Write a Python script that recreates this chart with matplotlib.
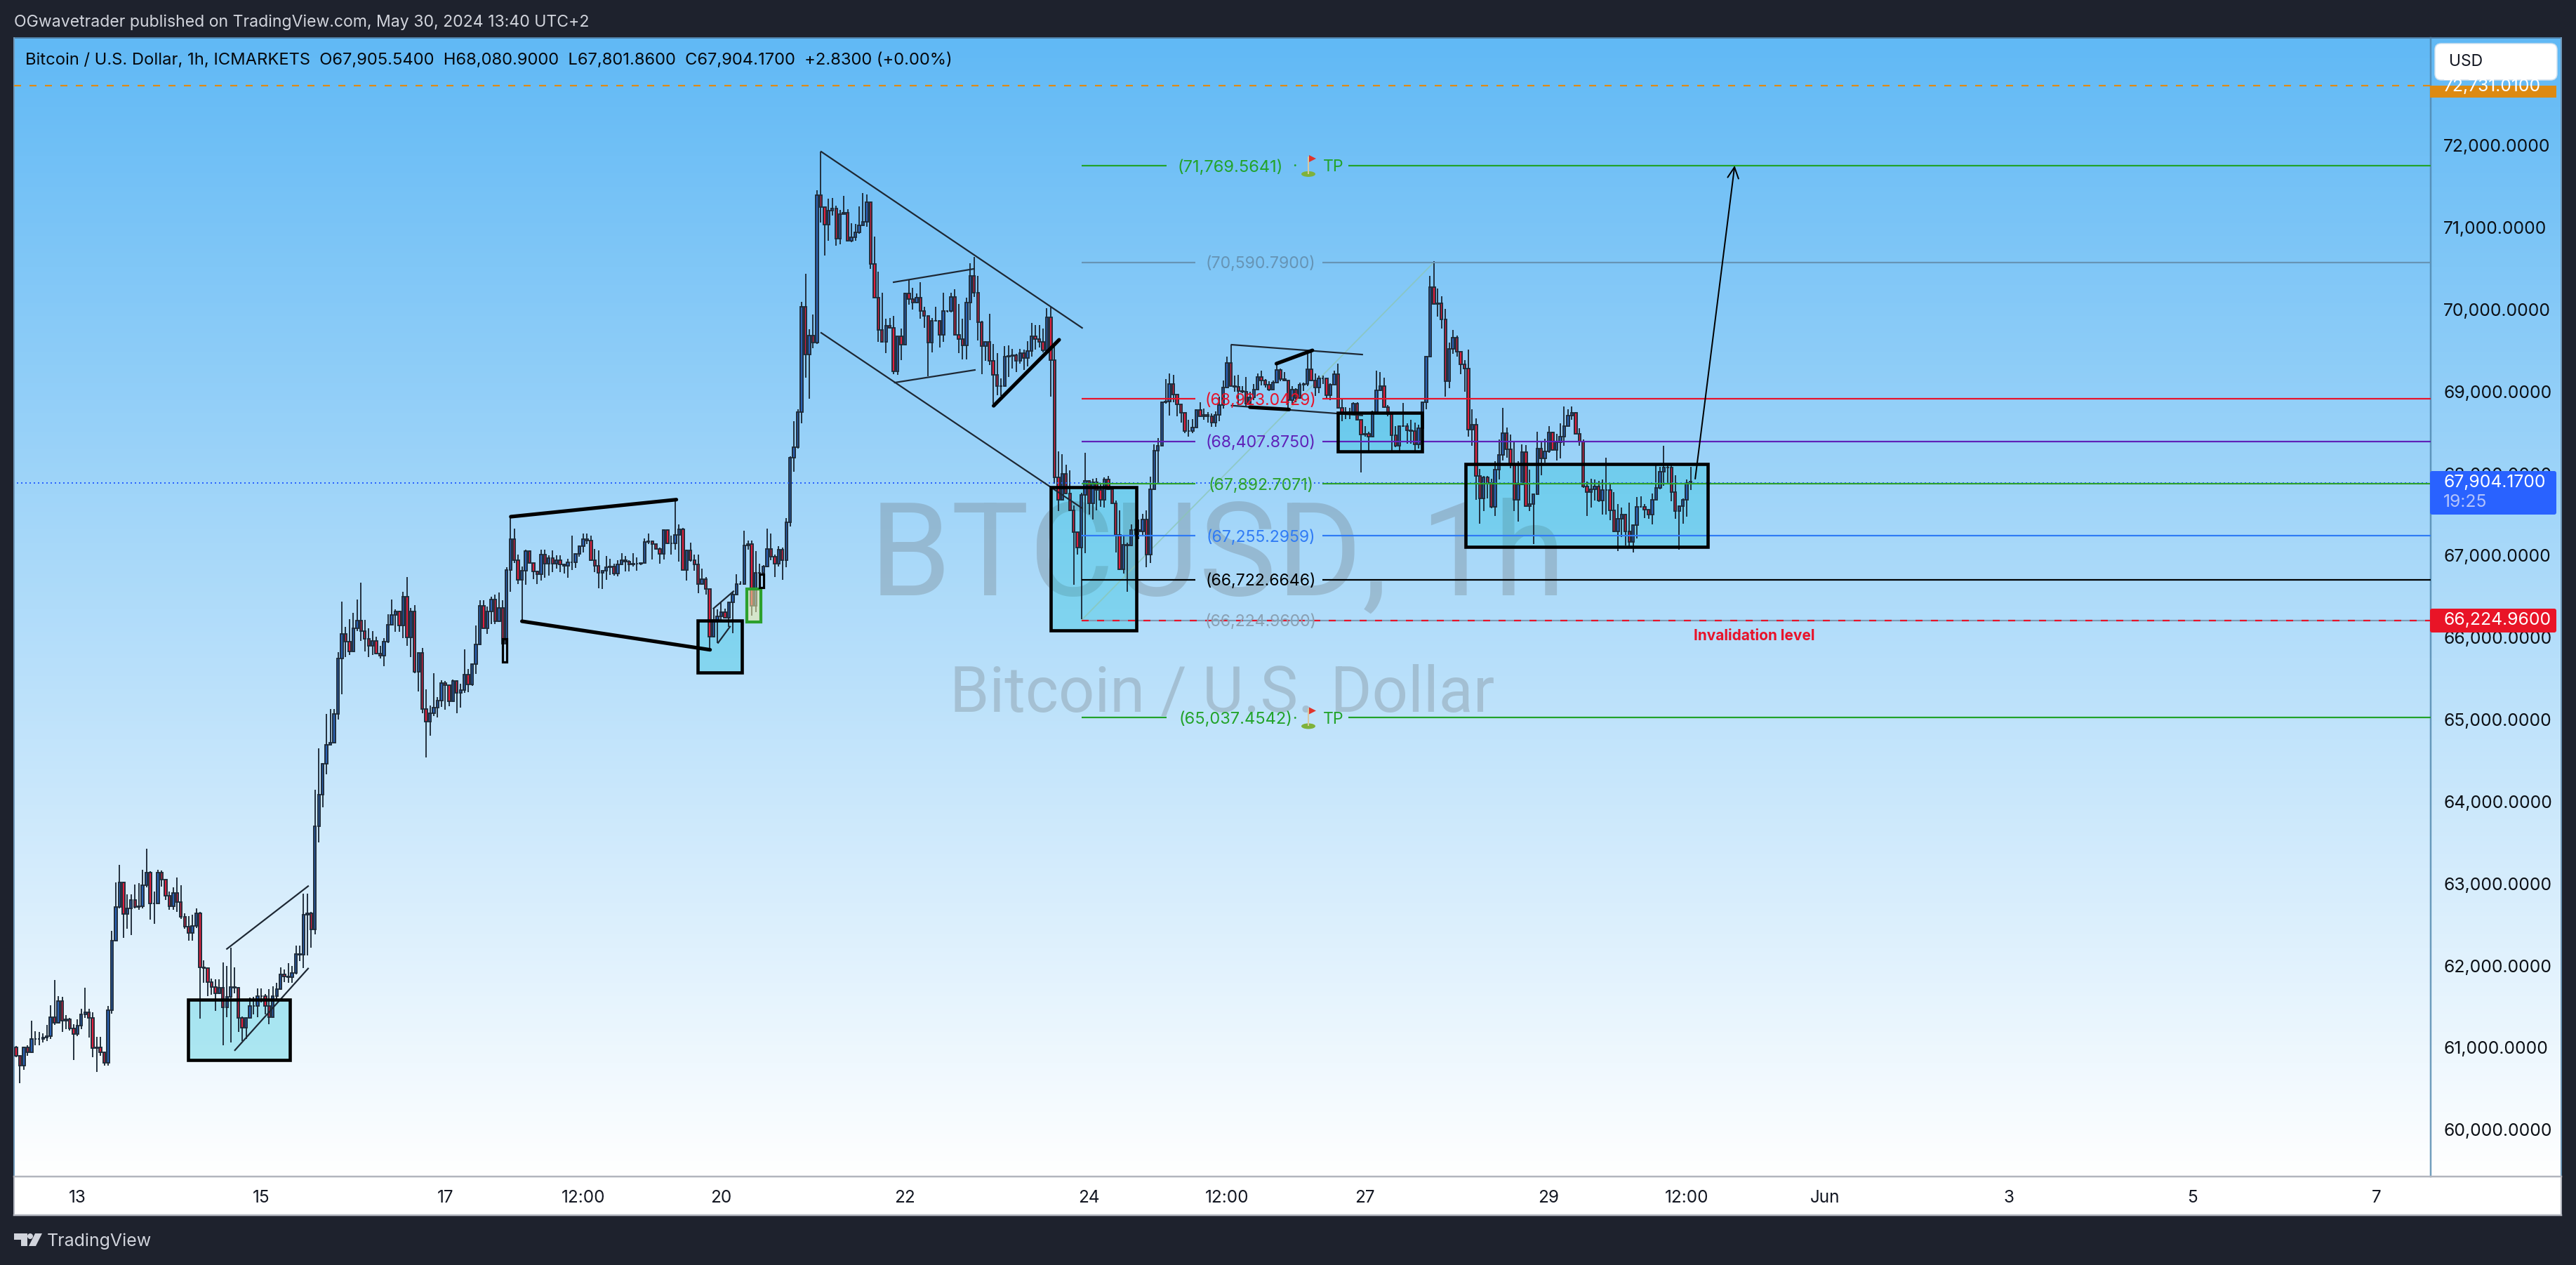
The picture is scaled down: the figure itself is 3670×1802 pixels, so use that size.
import numpy as np
import matplotlib
matplotlib.use("Agg")
import matplotlib.pyplot as plt
from matplotlib.patches import Rectangle, FancyBboxPatch, Polygon, Ellipse, Circle
from matplotlib.transforms import ScaledTranslation

# ---- values ----
first_open = 61000
closes = [
 60900,60780,61000,60945,61100,61100,61105,61125,61140,61370,
 61300,61570,61330,61345,61230,61160,61270,61400,61430,61360,
 60990,61000,60940,60810,61455,62300,62710,63010,62630,62700,
 62795,62710,62720,62975,63135,62760,62760,63135,63050,62850,
 62720,62885,62770,62590,62470,62400,62480,62640,61980,61965,
 61800,61740,61660,61730,61490,61615,61740,61730,61360,61240,
 61360,61510,61510,61630,61630,61510,61370,61630,61710,61890,
 61870,61860,61910,62140,62130,62620,62640,62440,63700,
 64085,64460,64690,64720,65070,65745,66040,65950,65830,66115,66205,
 66080,65980,65900,65960,65800,65780,65950,66150,66270,66320,
 66145,66500,66000,66320,65577,65810,65130,64970,65075,65140,
 65230,65445,65420,65220,65470,65325,65360,65550,65425,65675,
 65915,66385,66115,66320,66465,66196,66360,65925,66825,67200,
 66940,66700,66815,67050,66910,66805,66770,67010,66900,66965,
 66900,66940,66890,66875,66920,66918,67018,67115,67200,67180,
 66940,66870,66786,66810,66860,66865,66775,66890,66945,66925,
 66890,66895,66895,66905,67165,67170,67135,67080,67015,67310,
 67145,67150,67250,67320,66825,67060,66940,66887,66653,66710,
 66588,66011,66210,66254,66310,66240,66425,66525,66647,66653,
 67124,67135,66382,66790,66790,66867,67080,66981,66896,67067,
 66938,67400,68194,68323,68750,70034,69450,69678,69592,71390,
 71247,71033,71204,71232,70862,71161,71175,70833,70876,70942,
 71027,71067,71310,70553,70143,69750,69606,69800,69775,69240,
 69670,69572,70190,70125,70080,70140,69977,69920,69592,69862,
 69862,69692,69977,69977,70154,69692,69635,69564,70086,70410,
 70205,69840,69550,69600,69372,69200,69064,69064,69421,69435,
 69441,69372,69464,69407,69492,69670,69640,69600,69500,69906,
 69378,67951,67680,67994,67757,67550,67280,67095,67737,67908,
 67637,67894,67794,67680,67922,67803,67637,67252,66833,67130,
 67123,67310,67306,67290,67440,67010,67803,68279,68336,68864,
 68880,69086,68964,68842,68736,68516,68516,68556,68773,68693,
 68713,68693,68620,68716,68830,69050,69350,69064,69058,69006,
 68992,68850,68930,69020,69172,69135,69078,69021,69106,69263,
 69150,69130,68892,69021,68921,69078,69086,69272,69135,69050,
 69155,69155,68950,69080,69212,68801,68750,68745,68736,68850,
 68650,68470,68480,68450,68745,69010,69060,68807,68720,68465,
 68336,68573,68580,68527,68520,68350,68550,68870,69426,70268,
 70068,70076,69877,69121,69515,69657,69486,69326,69278,68536,
 68593,67971,67695,67951,67880,67589,68043,68228,68488,68294,
 68108,67680,67866,68259,67603,67630,67746,68299,68180,68265,
 68499,68285,68379,68450,68579,68707,68736,68485,68385,67837,
 67775,67810,67843,67666,67794,67794,67546,67295,67443,67495,
 67295,67167,67366,67595,67595,67560,67495,67680,67820,68023,
 68070,68070,67774,67537,67603,67680,67880,67904,
]
highs = [
 61015,60910,61010,61030,61330,61195,61190,61170,61275,61515,
 61820,61630,61615,61395,61365,61280,61340,61470,61730,61470,
 61430,61130,61130,60950,61510,62420,63010,63230,63010,62870,
 62870,62985,63000,63170,63420,63150,62900,63170,63160,62950,
 62900,62950,63070,62980,62640,62600,62620,62700,62650,62060,
 61970,61840,61830,61830,62040,61990,62220,61980,61740,61375,
 61370,61610,61620,61720,61720,61650,61710,61750,61790,61980,
 61950,62030,61990,62240,62240,62880,62880,62650,64140,
 64647,64470,65070,65130,65130,65817,66433,66125,66225,66300,66460,
 66670,66210,66110,66080,66005,65900,65990,66280,66460,66345,
 66325,66560,66735,66360,66390,65810,65870,65363,65170,65560,
 65275,65480,65465,65415,65490,65480,65435,65854,65612,65680,
 66145,66450,66450,66375,66500,66525,66545,66450,66860,67458,
 67324,67010,66865,67070,67060,66824,66810,67070,67070,67000,
 67060,67000,67000,66895,66960,67237,67030,67125,67266,67266,
 67237,67080,67060,66810,66995,66958,66895,66938,67023,66990,
 66938,67023,66980,66905,67203,67266,67180,67146,67095,67315,
 67315,67238,67680,67380,67338,67066,67152,67010,67010,66840,
 66740,66590,66350,66340,66425,66350,66425,66553,66767,66682,
 67300,67181,67181,67052,66895,66880,67323,67266,67010,67110,
 67095,67452,68208,68636,68779,70091,70434,69755,69935,71452,
 71926,71247,71347,71355,71260,71210,71381,71218,71047,71039,
 71255,71415,71398,71318,70885,70457,70205,69886,69897,69920,
 69670,69763,70205,70362,70263,70190,70334,70034,69906,69892,
 70029,69869,70200,69992,70205,70242,70063,69883,70143,70562,
 70642,70410,69863,69612,69943,69578,69470,69156,69555,69563,
 69515,69458,69520,69507,69615,69835,69806,69806,69763,70011,
 70029,69555,68270,68236,68108,68037,67609,67280,67760,68250,
 67917,67937,67945,67865,67951,67965,67837,67665,67552,67252,
 67152,67380,67323,67437,67509,67552,67957,68350,68430,68878,
 69150,69220,69200,68850,68835,68735,68650,68665,68778,68864,
 68793,68750,68727,68755,68935,69135,69420,69572,69192,69200,
 69064,69178,68992,69086,69220,69249,69150,69120,69135,69340,
 69278,69235,69135,69064,69035,69106,69106,69497,69497,69220,
 69192,69192,69106,69098,69249,69335,68921,68807,68800,68870,
 68864,68593,68580,68507,68764,69249,69235,69163,68835,68716,
 68579,68579,68855,68607,68650,68620,68590,68879,69426,70405,
 70590,70254,70157,70005,69592,69749,69677,69486,69378,69506,
 68780,68670,68051,67965,67965,67937,68145,68413,68798,68556,
 68473,68379,68145,68351,68345,68043,67750,68508,68380,68420,
 68573,68507,68479,68607,68813,68784,68813,68745,68550,68413,
 67900,67937,67923,67908,67928,68188,67872,67772,67623,67580,
 67510,67643,67380,67709,67717,67623,67552,67757,68100,68080,
 68336,68093,68093,67980,67610,67695,67929,68081,
]
lows = [
 60885,60565,60730,60900,60955,61030,61030,61060,61080,61100,
 61275,61295,61190,61220,61205,60850,61140,61220,61360,61120,
 60885,60700,60900,60780,60780,61410,62290,62700,62340,62450,
 62370,62700,62680,62700,62950,62560,62510,62760,62960,62800,
 62680,62680,62650,62570,62450,62300,62300,62460,61350,61790,
 61630,61640,61450,61650,61030,61370,61060,61660,61190,61080,
 61100,61350,61400,61370,61550,61400,61280,61370,61590,61700,
 61800,61790,61790,61890,62050,61970,62120,62220,62380,
 63500,63930,64335,64700,64740,65000,65303,65760,65790,65860,66080,
 65960,65830,65760,65790,65797,65740,65645,65930,66150,66070,
 66070,65990,65895,65760,65563,65340,65075,64535,64800,65040,
 65020,65155,65120,65160,65220,65075,65145,65320,65330,65410,
 65555,65910,66110,66045,66160,66160,66190,65920,65920,66553,
 66910,66650,66197,66640,66900,66710,66650,66695,66725,66750,
 66795,66840,66795,66780,66730,66824,66850,66986,67036,67135,
 66935,66800,66595,66587,66704,66758,66753,66747,66890,66804,
 66804,66867,66815,66880,66906,67137,66950,67066,66900,66950,
 67140,67010,67067,66924,66820,66695,66924,66810,66540,66640,
 66518,65849,66000,65934,66210,66240,66125,66054,66520,66640,
 66640,67067,66268,66310,66767,66753,66860,66938,66740,66867,
 66700,66853,67352,68023,68300,68613,69170,68907,69527,69580,
 71056,70653,70840,71147,70776,70790,71161,70827,70819,70839,
 70919,71033,71004,70496,70143,69606,69600,69470,69770,69207,
 69200,69384,69670,70060,70000,70070,69890,69778,69180,69478,
 69856,69535,69606,69963,69963,69692,69470,69392,69392,69869,
 70154,69620,69207,69372,69321,68850,68956,68944,69092,69179,
 69278,69236,69335,69264,69307,69421,69512,69535,69478,69492,
 68936,67872,67537,67665,67751,67537,66644,67010,66224,67024,
 67495,67437,67552,67595,67580,67797,67637,67038,66825,66780,
 66553,67110,67252,67195,67238,66860,66910,67803,67865,68336,
 68850,68707,68864,68693,68621,68493,68450,68487,68556,68693,
 68650,68622,68564,68564,68636,68793,69050,69064,68992,68835,
 68978,68807,68850,68892,69020,69070,69050,69006,69098,69106,
 69120,69120,68778,68850,68864,68907,69007,69064,69120,68944,
 68978,69086,68921,68892,69090,68793,68640,68665,68665,68721,
 68642,68008,68450,68280,68436,68750,69007,68801,68693,68279,
 68322,68279,68579,68365,68360,68250,68300,68545,68784,69426,
 70060,69914,69763,68936,69041,69458,69420,69212,68998,68450,
 68336,67680,67389,67544,67695,67572,67480,67923,68157,68194,
 68065,67544,67415,67880,67595,67537,67138,67746,67980,68135,
 68250,68280,68157,68180,68336,68573,68650,68480,68336,67823,
 67480,67586,67666,67652,67495,67495,67430,67280,67053,67224,
 67123,67110,67038,67210,67585,67452,67443,67381,67680,67808,
 67851,67880,67657,67443,67067,67386,67472,67801,
]
assert len(closes) == len(highs) == len(lows), (len(closes), len(highs), len(lows))

price_ticks = [72000,71000,70000,69000,68000,67000,66000,65000,64000,63000,62000,61000,60000]
time_tick_bars = [16,64,112,148,184,232,280,316,352,400,436,472,520,568,616]
time_tick_labels = ["13","15","17","12:00","20","22","24","12:00","27","29","12:00","Jun","3","5","7"]

level_prices = [70590.79,68923.0429,68407.875,67892.7071,67255.2959,66722.6646]
level_colors = ["#6694b5","#e8132a","#5e21b8","#2ca02c","#2f7bf5","#000000"]
level_labels = ["(70,590.7900)","(68,923.0429)","(68,407.8750)","(67,892.7071)","(67,255.2959)","(66,722.6646)"]
tp_prices = [71769.5641,65037.4542]
tp_labels = ["(71,769.5641)","(65,037.4542)"]
stop_price = 66224.96
alert_price = 72731.01
last_price = 67904.17

# zones: bar from, bar to, price low, price high
zones = [(44.9,71.4,60846,61583),(177.8,189.4,65571,66205),(270.1,292.3,66085,67831),
         (344.9,367,68268,68739),(378.2,441.4,67104,68114)]
# thin trend lines: bar, price, bar, price
thin_lines = [(210.1,71923,278.2,69774),(210.1,69714,278.2,67575),(229,70331,250,70494),(229.3,69107,250.2,69261),
              (55,62202,76.2,62967),(57.1,60967,76.2,61963),(182,66353,187.2,66562),(183.2,65934,186.3,66131),
              (317.2,69569,351.3,69449),(317.2,68827,351.3,68707)]
thick_lines = [(129.1,67472,172.3,67680),(132,66197,181.1,65849),(255.1,68824,272.2,69629),
               (328.9,69338,338.3,69500),(322,68807,332.2,68779)]
READ_OFFSET = 17  # the readings above were taken against the tick-label centres, which sit 2 px above the true scale

W, H = 3670, 1802
BG = "#1e222d"
plt.rcParams['font.family'] = ['Inter', 'DejaVu Sans']
fig = plt.figure(figsize=(W/100, H/100), dpi=100, facecolor=BG)
PX = 0.72  # one pixel in points

def full_axes(z):
    a = fig.add_axes([0, 0, 1, 1], zorder=z)
    a.set_xlim(0, W); a.set_ylim(H, 0); a.axis('off'); a.patch.set_alpha(0)
    return a

back = full_axes(0)
top = full_axes(3)

# pane background gradient
grad = np.linspace(0, 1, 256)[:, None, None] * (np.array([255,255,255])-np.array([97,185,245])) + np.array([97,185,245])
back.imshow(grad.astype(np.uint8), extent=(20,3649,1676,54), aspect='auto', interpolation='bilinear')
back.add_patch(Rectangle((20,1676),3629,55,fc='white',ec='none'))
back.set_xlim(0, W); back.set_ylim(H, 0)
back.plot([20,3649],[54,54],color="#4f7fa6",lw=2*PX)
back.plot([20,20],[54,1676],color="#6f97b8",lw=2*PX)
back.plot([20,20],[1676,1731],color="#b2b5be",lw=2*PX)
back.plot([3649,3649],[54,1676],color="#6f97b8",lw=2*PX)
back.plot([3649,3649],[1676,1731],color="#b2b5be",lw=2*PX)
back.plot([3463,3463],[54,1676],color="#4f86ad",lw=2.5*PX, alpha=.8)
back.plot([20,3649],[1676,1676],color="#b2b5be",lw=2.5*PX)
back.plot([20,3649],[1731,1731],color="#b2b5be",lw=2.5*PX)

# main chart
ax = fig.add_axes([20/W, 1-1676/H, (3463-20)/W, (1676-54)/H], zorder=1)
ax.patch.set_alpha(0)
for s in ax.spines.values():
    s.set_visible(False)
STEP = 5.459
ax.set_xlim((20-23)/STEP, (3463-23)/STEP)
PP = 1000/116.83
ANCHOR = 209
ax.set_ylim(72000-(1676-ANCHOR)*PP, 72000+(ANCHOR-54)*PP)
ax.yaxis.tick_right()
ax.set_yticks(price_ticks)
ax.set_yticklabels([f"{v:,.4f}" for v in price_ticks], fontsize=17.8, color="#0c1016", ha='left')
ax.tick_params(axis='y', length=0, pad=13)
ax.set_xticks(time_tick_bars)
ax.set_xticklabels(time_tick_labels, fontsize=17.5, color="#131722")
ax.tick_params(axis='x', length=0, pad=14)
lift = ScaledTranslation(0, 1.7/100, fig.dpi_scale_trans)
for lb in ax.get_yticklabels():
    lb.set_transform(lb.get_transform() + lift)

# watermark
ax.text((1735-23)/STEP, 66519+READ_OFFSET, "BTCUSD, 1h", fontsize=134, color="#606060", alpha=.25, ha='center', va='baseline', family='Roboto', zorder=1)
ax.text(314.7, 65092+READ_OFFSET, "Bitcoin / U.S. Dollar", fontsize=65, color="#606060", alpha=.25, ha='center', va='baseline', family='Roboto', zorder=1)

# zones fill
for x0,x1,p0,p1 in zones:
    ax.add_patch(Rectangle((x0,p0+READ_OFFSET),x1-x0,p1-p0,fc=(0,0.737,0.831,0.28),ec='none',zorder=2))

# candles
c = np.array(closes, float)
o = np.concatenate([[first_open], c[:-1]])
hi = np.maximum(np.array(highs, float), np.maximum(o, c))
lo = np.minimum(np.array(lows, float), np.minimum(o, c))
c, o, hi, lo = c+READ_OFFSET, o+READ_OFFSET, hi+READ_OFFSET, lo+READ_OFFSET
x = np.arange(len(c))
EDGE = "#1f2c3a"
ax.vlines(x, lo, hi, color=EDGE, lw=1.9*PX, zorder=3)
ax.bar(x, np.abs(c-o), bottom=np.minimum(o,c), width=0.62,
       color=np.where(c >= o, "#2a62b5", "#e0203c"), edgecolor=EDGE, linewidth=1.9*PX, zorder=3.1)

# levels
def level(price, color, label, gap_l=1703, gap_r=1884):
    xl = (1541-23)/STEP; xa = (gap_l-23)/STEP; xb = (gap_r-23)/STEP; xr = (3463-23)/STEP
    ax.hlines(price, xl, xa, color=color, lw=2.2*PX, zorder=3.5)
    ax.hlines(price, xb, xr, color=color, lw=2.2*PX, zorder=3.5)

for p, col, lab in zip(level_prices, level_colors, level_labels):
    level(p, col, lab)
    ax.text((1796-23)/STEP, p, lab, color=col, fontsize=16.6, ha='center', va='center_baseline', zorder=5)

# stop line
xl = (1541-23)/STEP; xr = (3463-23)/STEP
ax.hlines(stop_price, xl, xr, color="#7d9db6", lw=2.2*PX, zorder=3.5)
ax.hlines(stop_price, xl, xr, color="#e8132a", lw=2.2*PX, zorder=3.6, linestyles=[(0,(10/2.2,12/2.2))])
ax.text((1796-23)/STEP, stop_price, "(66,224.9600)", color="#8aa0b2", fontsize=16.6, ha='center', va='center_baseline', zorder=5)
ax.text((2499-23)/STEP, stop_price-190, "Invalidation level", color="#e8132a", fontsize=15, fontweight='bold', ha='center', va='center', zorder=5)

# TP levels
for p, lab, cx in zip(tp_prices, tp_labels, (1753, 1760)):
    level(p, "#22a32a", lab, gap_l=1662, gap_r=1921)
    ax.text((cx-23)/STEP, p, lab, color="#22a32a", fontsize=17, ha='center', va='center_baseline', zorder=5)
    ax.text((1885-23)/STEP, p, "TP", color="#22a32a", fontsize=16.6, ha='left', va='center_baseline', zorder=5)
    ax.text((1844-23)/STEP, p, "·", color="#22a32a", fontsize=16.6, ha='center', va='center_baseline', zorder=5)

# last price and alert lines
ax.hlines(last_price, -1, xr, color="#2962ff", lw=2*PX, linestyles=[(0,(1,2))], zorder=3.4)
top.plot([20,3463],[122,122],color="#e08a12",lw=2.2*PX,linestyle=(0,(10/2.2,12/2.2)))

# drawings
for x0,p0,x1,p1 in thin_lines:
    ax.plot([x0,x1],[p0+READ_OFFSET,p1+READ_OFFSET],color="#1d2733",lw=2.2*PX,zorder=3.8)
for x0,p0,x1,p1 in thick_lines:
    ax.plot([x0,x1],[p0+READ_OFFSET,p1+READ_OFFSET],color="black",lw=5.2*PX,zorder=3.9,solid_capstyle='round')
ax.plot([278,370],[66224.96,70590.79],color="#8cc6b4",lw=1.8*PX,alpha=.75,zorder=2.8)
ax.annotate("", xy=(448.5,tp_prices[0]), xytext=(438.2,67951), zorder=4,
            arrowprops=dict(arrowstyle='->',color='black',lw=2*PX,mutation_scale=28,shrinkA=0,shrinkB=0))
for x0,x1,p0,p1 in zones:
    ax.add_patch(Rectangle((x0,p0+READ_OFFSET),x1-x0,p1-p0,fc='none',ec='black',lw=4.6*PX,zorder=4))
ax.add_patch(Rectangle((190.7,66188+READ_OFFSET),3.6,402,fc=(0.95,0.93,0.65,0.55),ec="#2ca02c",lw=4.2*PX,zorder=4))
ax.add_patch(Rectangle((194,66607+READ_OFFSET),1.0,163,fc='none',ec='black',lw=3.2*PX,zorder=4))
ax.add_patch(Rectangle((126.9,65700+READ_OFFSET),1.2,282,fc='none',ec='black',lw=3.2*PX,zorder=4))

# flags (golf emoji of the TP labels)
for p in tp_prices:
    xd, yd = ax.transData.transform(((1864-23)/STEP, p))
    cy = H - yd
    top.add_patch(Ellipse((1864,cy+12),20,8,fc="#7fb23a",ec='none'))
    top.plot([1864,1864],[cy-12,cy+11],color="#d9c9a0",lw=2*PX)
    top.add_patch(Polygon([(1865,cy-15),(1875,cy-10),(1865,cy-5)],fc="#e0342c",ec='none'))

# chrome text
top.text(20,32,"OGwavetrader published on TradingView.com, May 30, 2024 13:40 UTC+2",color="#d1d4dc",fontsize=16.6,va='center')
top.text(36,86,"Bitcoin / U.S. Dollar, 1h, ICMARKETS  O67,905.5400  H68,080.9000  L67,801.8600  C67,904.1700  +2.8300 (+0.00%)",color="#05080d",fontsize=17.1,va='center')

# USD button
top.add_patch(FancyBboxPatch((3475,68),162,40,boxstyle="round,pad=6,rounding_size=9",fc='white',ec="#cfe0ee",lw=1.5*PX))
top.text(3489,88,"USD",color="#131722",fontsize=16.5,va='center')

# price tags
r = Rectangle((3462,122),180,17,fc="#dd8a12",ec='none')
top.add_patch(r)
t = top.text(3481,123,f"{alert_price:,.4f}",color='white',fontsize=17.8,va='center')
t.set_clip_path(r)
top.add_patch(FancyBboxPatch((3462,671),180,62,boxstyle="round,pad=0,rounding_size=3",fc="#2962ff",ec='none'))
top.text(3481,687,f"{last_price:,.4f}",color='white',fontsize=17.8,va='center')
top.text(3481,715,"19:25",color="#b4c4fb",fontsize=17.8,va='center')
top.add_patch(FancyBboxPatch((3462,867),180,34,boxstyle="round,pad=0,rounding_size=3",fc="#e91427",ec='none'))
top.text(3481,884,f"{stop_price:,.4f}",color='white',fontsize=17.8,va='center')

# TradingView logo
LOGO = "#d1d4dc"
top.add_patch(Polygon([(20,1757),(39,1757),(39,1775),(30,1775),(30,1766),(20,1766)],fc=LOGO,ec='none'))
top.add_patch(Circle((43,1761),4,fc=LOGO,ec='none'))
top.add_patch(Polygon([(50,1757),(60,1757),(51,1775),(41,1775)],fc=LOGO,ec='none'))
top.text(67,1768,"TradingView",color="#d1d4dc",fontsize=18,va='center')

fig.savefig("out.png", dpi=100, facecolor=BG)
